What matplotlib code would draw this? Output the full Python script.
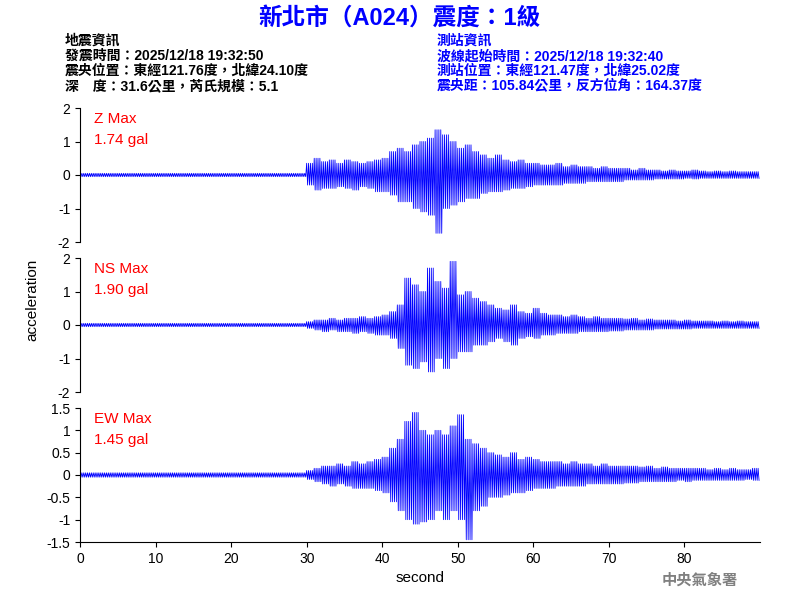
import numpy as np
import matplotlib
matplotlib.use("Agg")
import matplotlib.pyplot as plt

plt.rcParams['font.family'] = ['Liberation Sans', 'Noto Sans CJK TC', 'DejaVu Sans']

# peak readings per second (0..89 s), positive and negative side
quiet = [0.05] * 30
z_pos = quiet + [0.35, 0.5, 0.4, 0.45, 0.35, 0.45, 0.4, 0.35, 0.4, 0.45,
                 0.5, 0.7, 0.8, 0.7, 0.9, 1.0, 1.1, 1.35, 1.2, 1.0,
                 0.8, 0.9, 0.7, 0.6, 0.5, 0.6, 0.45, 0.4, 0.45, 0.35,
                 0.35, 0.3, 0.3, 0.35, 0.25, 0.3, 0.25, 0.25, 0.2, 0.25,
                 0.2, 0.2, 0.2, 0.15, 0.2, 0.15, 0.15, 0.12, 0.15, 0.12,
                 0.12, 0.15, 0.12, 0.1, 0.12, 0.1, 0.12, 0.1, 0.1, 0.1]
z_neg = quiet + [0.3, 0.45, 0.4, 0.4, 0.35, 0.4, 0.45, 0.35, 0.4, 0.5,
                 0.5, 0.6, 0.8, 0.8, 1.0, 1.1, 1.2, 1.74, 1.0, 0.9,
                 0.8, 0.7, 0.7, 0.55, 0.5, 0.5, 0.45, 0.4, 0.4, 0.35,
                 0.3, 0.3, 0.3, 0.3, 0.25, 0.25, 0.25, 0.2, 0.2, 0.2,
                 0.2, 0.2, 0.15, 0.15, 0.15, 0.15, 0.12, 0.12, 0.12, 0.12,
                 0.1, 0.12, 0.1, 0.1, 0.1, 0.1, 0.1, 0.1, 0.1, 0.1]
ns_pos = quiet + [0.1, 0.15, 0.15, 0.2, 0.15, 0.2, 0.2, 0.25, 0.2, 0.25,
                  0.3, 0.4, 0.6, 1.4, 1.2, 1.0, 1.7, 1.3, 1.1, 1.9,
                  0.9, 1.0, 0.8, 0.7, 0.6, 0.5, 0.45, 0.6, 0.4, 0.35,
                  0.5, 0.35, 0.3, 0.3, 0.25, 0.3, 0.25, 0.2, 0.25, 0.2,
                  0.2, 0.2, 0.18, 0.2, 0.15, 0.18, 0.15, 0.15, 0.15, 0.12,
                  0.15, 0.12, 0.12, 0.12, 0.1, 0.12, 0.1, 0.12, 0.1, 0.1]
ns_neg = quiet + [0.1, 0.15, 0.2, 0.15, 0.2, 0.2, 0.25, 0.2, 0.25, 0.3,
                  0.3, 0.4, 0.7, 1.2, 1.3, 1.1, 1.4, 1.0, 1.3, 1.0,
                  0.8, 0.8, 0.6, 0.6, 0.5, 0.4, 0.5, 0.6, 0.4, 0.35,
                  0.4, 0.3, 0.3, 0.25, 0.25, 0.25, 0.2, 0.2, 0.2, 0.2,
                  0.18, 0.18, 0.15, 0.15, 0.15, 0.15, 0.12, 0.12, 0.12, 0.12,
                  0.12, 0.1, 0.1, 0.1, 0.1, 0.1, 0.1, 0.1, 0.1, 0.1]
ew_pos = quiet + [0.1, 0.15, 0.2, 0.2, 0.25, 0.2, 0.3, 0.25, 0.3, 0.35,
                  0.4, 0.6, 0.8, 1.2, 1.4, 1.0, 0.9, 1.0, 0.9, 1.1,
                  1.35, 0.8, 0.7, 0.6, 0.5, 0.45, 0.4, 0.5, 0.35, 0.4,
                  0.35, 0.3, 0.3, 0.3, 0.25, 0.3, 0.25, 0.25, 0.2, 0.25,
                  0.2, 0.2, 0.2, 0.2, 0.18, 0.2, 0.15, 0.18, 0.15, 0.15,
                  0.15, 0.15, 0.15, 0.12, 0.15, 0.12, 0.15, 0.12, 0.12, 0.15]
ew_neg = quiet + [0.1, 0.15, 0.2, 0.25, 0.2, 0.25, 0.3, 0.3, 0.3, 0.35,
                  0.4, 0.6, 0.8, 1.0, 1.1, 1.05, 1.0, 0.8, 1.0, 0.8,
                  1.0, 1.45, 0.8, 0.7, 0.5, 0.5, 0.45, 0.4, 0.4, 0.35,
                  0.3, 0.3, 0.3, 0.25, 0.25, 0.25, 0.25, 0.2, 0.2, 0.2,
                  0.2, 0.2, 0.18, 0.18, 0.15, 0.15, 0.15, 0.15, 0.15, 0.12,
                  0.15, 0.12, 0.12, 0.12, 0.12, 0.12, 0.12, 0.12, 0.1, 0.12]

labels = ["Z Max\n1.74 gal", "NS Max\n1.90 gal", "EW Max\n1.45 gal"]
ylims = [(-2, 2), (-2, 2), (-1.5, 1.5)]
yticks = [[-2, -1, 0, 1, 2], [-2, -1, 0, 1, 2],
          [-1.5, -1, -0.5, 0, 0.5, 1, 1.5]]
series = [(z_pos, z_neg), (ns_pos, ns_neg), (ew_pos, ew_neg)]


def zigzag(pos, neg, reps=4):
    t, v = [], []
    for s in range(len(pos)):
        for k in range(reps):
            t += [s + k / reps, s + (k + 0.5) / reps]
            v += [pos[s], -neg[s]]
    return np.array(t), np.array(v)


fig = plt.figure(figsize=(8, 6), dpi=100)
tops = [108, 258, 408]
for i, (pos, neg) in enumerate(series):
    ax = fig.add_axes([80 / 800, 1 - (tops[i] + 134) / 600, 680 / 800, 134 / 600])
    t, v = zigzag(pos, neg)
    ax.plot(t, v, color="blue", lw=0.6)
    ax.set_xlim(0, 90)
    ax.set_ylim(*ylims[i])
    ax.set_yticks(yticks[i])
    ax.set_yticklabels([f"{y:g}" for y in yticks[i]])
    ax.spines[["top", "right"]].set_visible(False)
    ax.tick_params(labelsize=10)
    ax.text(0.02, 0.97, labels[i], transform=ax.transAxes, color="red",
            fontsize=11, va="top", linespacing=1.6)
    if i < 2:
        ax.spines["bottom"].set_visible(False)
        ax.set_xticks([])
    else:
        ax.set_xticks(range(0, 90, 10))
        ax.set_xlabel("second", fontsize=11)

fig.text(0.04, 0.5, "acceleration", rotation=90, va="center", ha="center", fontsize=11)
fig.text(0.5, 0.97, "新北市（A024）震度：1級", color="blue", fontsize=17,
         fontweight="bold", ha="center", va="center")
left = "地震資訊\n發震時間：2025/12/18 19:32:50\n震央位置：東經121.76度，北緯24.10度\n深　度：31.6公里，芮氏規模：5.1"
right = "測站資訊\n波線起始時間：2025/12/18 19:32:40\n測站位置：東經121.47度，北緯25.02度\n震央距：105.84公里，反方位角：164.37度"
fig.text(65 / 800, 1 - 34 / 600, left, fontsize=10, fontweight="bold", va="top", linespacing=1.1)
fig.text(437 / 800, 1 - 34 / 600, right, fontsize=10, fontweight="bold", va="top",
         color="blue", linespacing=1.1)
fig.text(700 / 800, 1 - 581 / 600, "中央氣象署", color="gray", fontsize=11,
         fontweight="bold", ha="center", va="center")
fig.savefig("out.png")
